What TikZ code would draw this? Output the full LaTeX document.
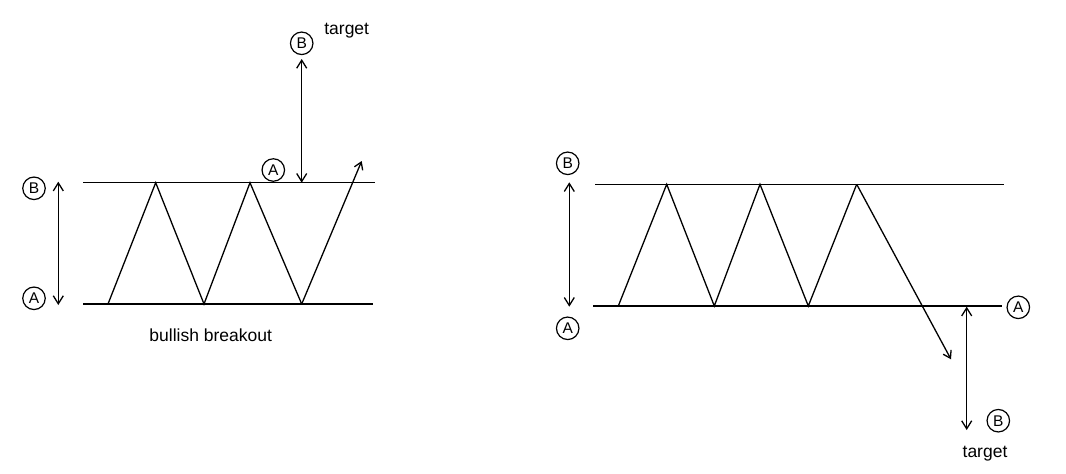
\documentclass[tikz,border=0pt]{standalone}
\usepackage{fontspec}
\setmainfont{Liberation Sans}
\usetikzlibrary{arrows.meta}
\begin{document}
\begin{tikzpicture}[x=1pt,y=-1pt,
  line width=1.3pt,
  lbl/.style={circle,draw,line width=1.2pt,inner sep=0pt,minimum size=22.5pt,font=\fontsize{15.5}{15.5}\selectfont},
  txt/.style={inner sep=0pt,font=\fontsize{17.5}{17.5}\selectfont},
  arr/.style={-{Straight Barb[length=7pt,width=9pt,line width=1.3pt]}},
  darr/.style={{Straight Barb[length=8pt,width=10pt,line width=1.3pt]}-{Straight Barb[length=8pt,width=10pt,line width=1.3pt]}}]
\useasboundingbox (0,0) rectangle (1066,474);
% ---------- left figure ----------
\coordinate (LT1) at (83,182.7); \coordinate (LT2) at (375,182.7);
\coordinate (LB1) at (83,304);   \coordinate (LB2) at (373,304);
\draw (LT1) -- (LT2);
\draw (LB1) -- (LB2);
\coordinate (l0) at (108,304);
\coordinate (l1) at (155.7,182.7);
\coordinate (l2) at (204,304);
\coordinate (l3) at (250,182.7);
\coordinate (l4) at (301.7,304);
\coordinate (l5) at (361.7,161);
\draw[line join=miter] (l0) -- (l1) -- (l2) -- (l3) -- (l4);
\draw[arr] (l4) -- (l5);
\node[lbl] (lB) at (34,188.3) {B};
\node[lbl] (lA) at (34,298.3) {A};
\coordinate (ld1) at (58.3,181.7); \coordinate (ld2) at (58.3,305);
\draw[darr] (ld1) -- (ld2);
\node[lbl] (lAt) at (273.3,170) {A};
\node[lbl] (lBt) at (301.7,43.3) {B};
\coordinate (lt1) at (301.7,59); \coordinate (lt2) at (301.7,182.7);
\draw[darr] (lt1) -- (lt2);
\node[txt] (ltarget) at (346.7,30.7) {target};
\node[txt] (lbull) at (210.7,335) {bullish breakout};
% ---------- right figure ----------
\coordinate (RT1) at (595,184.3); \coordinate (RT2) at (1004,184.3);
\coordinate (RB1) at (593.3,306); \coordinate (RB2) at (1001.7,306);
\draw (RT1) -- (RT2);
\draw (RB1) -- (RB2);
\coordinate (r0) at (618.3,306);
\coordinate (r1) at (666.7,184.3);
\coordinate (r2) at (714.3,306);
\coordinate (r3) at (760,184.3);
\coordinate (r4) at (808.3,306);
\coordinate (r5) at (856.7,184.3);
\coordinate (r6) at (951,359.3);
\draw[line join=miter] (r0) -- (r1) -- (r2) -- (r3) -- (r4) -- (r5);
\draw[arr] (r5) -- (r6);
\node[lbl] (rB) at (567.7,163.3) {B};
\node[lbl] (rA) at (567.7,328.3) {A};
\coordinate (rd1) at (569.3,182.3); \coordinate (rd2) at (569.3,306.7);
\draw[darr] (rd1) -- (rd2);
\node[lbl] (rAr) at (1018.3,307.3) {A};
\node[lbl] (rBt) at (998.3,420.7) {B};
\coordinate (rt1) at (966.7,306.7); \coordinate (rt2) at (966.7,430);
\draw[darr] (rt1) -- (rt2);
\node[txt] (rtarget) at (985,454) {target};
\end{tikzpicture}
\end{document}
